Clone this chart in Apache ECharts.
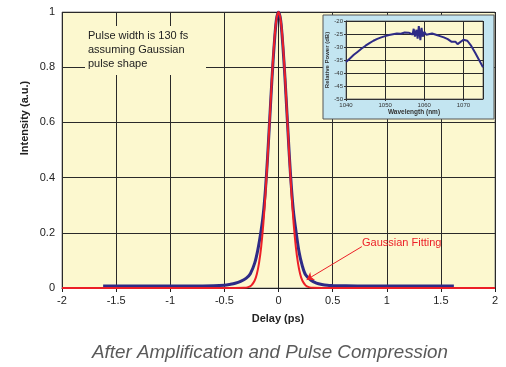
<!DOCTYPE html>
<html>
<head>
<meta charset="utf-8">
<script src="https://cdn.jsdelivr.net/npm/echarts@6/dist/echarts.min.js"></script>
<style>
  html, body { margin: 0; padding: 0; background: #fff; }
  #chart { width: 506px; height: 367px; }
</style>
</head>
<body>
<div id="chart"></div>
<script>
// autocorrelation trace (measured)
var delayMeasured = [-1.62, -1.2, -0.8, -0.6, -0.5, -0.45, -0.4, -0.35, -0.3, -0.26, -0.22, -0.19, -0.16, -0.14, -0.12, -0.1, -0.08, -0.06, -0.04, -0.02, 0,
  0.02, 0.04, 0.06, 0.08, 0.1, 0.12, 0.14, 0.16, 0.19, 0.22, 0.25, 0.3, 0.35, 0.4, 0.45, 0.5, 0.6, 0.8, 1.2, 1.62];
var intensityMeasured = [0.007, 0.007, 0.007, 0.008, 0.010, 0.013, 0.017, 0.024, 0.035, 0.052, 0.09, 0.14, 0.21, 0.27, 0.36, 0.48, 0.62, 0.76, 0.88, 0.97, 1,
  0.97, 0.88, 0.76, 0.62, 0.48, 0.36, 0.27, 0.21, 0.13, 0.08, 0.048, 0.028, 0.018, 0.013, 0.010, 0.009, 0.008, 0.007, 0.007, 0.007];

// gaussian fit
var delayFit = [-2, -0.4, -0.32, -0.28, -0.25, -0.22, -0.2, -0.18, -0.16, -0.14, -0.12, -0.1, -0.08, -0.06, -0.04, -0.02, 0,
  0.02, 0.04, 0.06, 0.08, 0.1, 0.12, 0.14, 0.16, 0.18, 0.2, 0.22, 0.25, 0.28, 0.32, 0.4, 2];
var intensityFit = [0, 0, 0.0005, 0.003, 0.0096, 0.027, 0.051, 0.09, 0.149, 0.233, 0.343, 0.475, 0.621, 0.765, 0.888, 0.971, 1,
  0.971, 0.888, 0.765, 0.621, 0.475, 0.343, 0.233, 0.149, 0.09, 0.051, 0.027, 0.0096, 0.003, 0.0005, 0, 0];

// inset spectrum
var wavelength = [1040, 1041, 1042, 1043, 1044, 1045, 1046, 1047, 1048, 1049, 1050, 1051, 1052, 1053, 1053.5, 1054, 1055, 1055.5, 1056, 1056.5,
  1057, 1057.3, 1057.6, 1058, 1058.3, 1058.6, 1059, 1059.3, 1059.6, 1060, 1060.5, 1061, 1062, 1063, 1064, 1065, 1066, 1067,
  1067.5, 1068, 1068.5, 1069, 1070, 1071, 1072, 1073, 1074, 1075];
var powerDb = [-35.8, -34.4, -33, -31.8, -30.6, -29.5, -28.5, -27.6, -26.9, -26.3, -25.8, -25.4, -25.1, -24.8, -24.3, -24.9, -24.4, -24.0, -24.5, -23.8,
  -25.2, -23.0, -26.0, -23.4, -26.8, -22.0, -27.4, -22.6, -26.0, -24.2, -25.3, -24.6, -24.8, -25.3, -25.8, -26.3, -27.0, -28.0,
  -28.6, -28.0, -28.9, -28.2, -27.2, -27.6, -29.6, -32.2, -35.0, -37.8];

var delayTicks = [-2, 2, 0.5];
var intensityTicks = [0, 1, 0.2];
var wlTicks = [1040, 1075, 10];
var dbTicks = [-50, -20, 5];

var arrowFrom = [0.77, 0.15];
var arrowTo = [0.26, 0.03];

function pairs(xs, ys) { return xs.map(function (x, i) { return [x, ys[i]]; }); }

var font = "'Liberation Sans', Arial, sans-serif";
var gridColor = '#2a2a2a';

var chart = echarts.init(document.getElementById('chart'));
chart.setOption({
  animation: false,
  textStyle: { fontFamily: font },
  grid: [
    { left: 62, right: 11, top: 12, bottom: 79, show: true, backgroundColor: '#fcf8cf', borderColor: '#8a8a8a', borderWidth: 1, z: 0 },
    { left: 346, top: 21, width: 137, height: 78, show: true, backgroundColor: '#fcf8cf', borderColor: '#777', borderWidth: 1, z: 10 }
  ],
  xAxis: [
    {
      type: 'value', gridIndex: 0, min: delayTicks[0], max: delayTicks[1], interval: delayTicks[2],
      axisLine: { onZero: false, lineStyle: { color: '#222' } },
      axisTick: { show: true, length: 4, lineStyle: { color: '#222' } },
      axisLabel: { color: '#222', fontSize: 11, margin: 7 },
      splitLine: { show: true, lineStyle: { color: gridColor, width: 1 } }
    },
    {
      type: 'value', gridIndex: 1, min: wlTicks[0], max: wlTicks[1], interval: wlTicks[2], z: 10,
      axisLine: { onZero: false, lineStyle: { color: '#333' } },
      axisTick: { show: true, length: 2, lineStyle: { color: '#333' } },
      axisLabel: { color: '#333', fontSize: 6, margin: 3, showMaxLabel: false, formatter: function (v) { return String(v); } },
      splitLine: { show: true, lineStyle: { color: gridColor, width: 1 } }
    }
  ],
  yAxis: [
    {
      type: 'value', gridIndex: 0, min: intensityTicks[0], max: intensityTicks[1], interval: intensityTicks[2],
      axisLine: { show: true, lineStyle: { color: '#222' } },
      axisTick: { show: true, length: 4, lineStyle: { color: '#222' } },
      axisLabel: { color: '#222', fontSize: 11, margin: 7 },
      splitLine: { show: true, lineStyle: { color: gridColor, width: 1 } }
    },
    {
      type: 'value', gridIndex: 1, min: dbTicks[0], max: dbTicks[1], interval: dbTicks[2], z: 10,
      axisLine: { show: true, lineStyle: { color: '#333' } },
      axisTick: { show: true, length: 2, lineStyle: { color: '#333' } },
      axisLabel: { color: '#333', fontSize: 6, margin: 3 },
      splitLine: { show: true, lineStyle: { color: gridColor, width: 1 } }
    }
  ],
  series: [
    {
      name: 'Measured', type: 'line', xAxisIndex: 0, yAxisIndex: 0,
      data: pairs(delayMeasured, intensityMeasured), showSymbol: false, smooth: 0.3, z: 2,
      lineStyle: { color: '#2e2b86', width: 3 }
    },
    {
      name: 'Gaussian Fitting', type: 'line', xAxisIndex: 0, yAxisIndex: 0,
      data: pairs(delayFit, intensityFit), showSymbol: false, smooth: 0.3, z: 3,
      lineStyle: { color: '#ec1f27', width: 2 },
      markLine: {
        silent: true, symbol: ['none', 'arrow'], symbolSize: 7,
        lineStyle: { color: '#ec1f27', width: 1, type: 'solid' },
        label: { show: false },
        data: [[{ coord: arrowFrom }, { coord: arrowTo }]]
      }
    },
    {
      name: 'Spectrum', type: 'line', xAxisIndex: 1, yAxisIndex: 1,
      data: pairs(wavelength, powerDb), showSymbol: false, z: 12,
      lineStyle: { color: '#2e2b86', width: 2 }
    }
  ],
  graphic: [
    // note box
    { type: 'rect', z: 4, shape: { x: 85, y: 26, width: 121, height: 49 }, style: { fill: '#fcf8cf' } },
    { type: 'text', z: 5, left: 88, top: 29, style: { text: 'Pulse width is 130 fs\nassuming Gaussian\npulse shape', fill: '#222', font: '11px ' + font, lineHeight: 14 } },
    // fit label
    { type: 'text', z: 5, left: 362, top: 237, style: { text: 'Gaussian Fitting', fill: '#ec1f27', font: '11px ' + font } },
    // axis titles
    { type: 'text', z: 5, x: 25, y: 118, rotation: Math.PI / 2, style: { text: 'Intensity (a.u.)', fill: '#222', font: 'bold 11px ' + font, textAlign: 'center', textVerticalAlign: 'middle' } },
    { type: 'text', z: 5, x: 278, y: 319, style: { text: 'Delay (ps)', fill: '#222', font: 'bold 11px ' + font, textAlign: 'center', textVerticalAlign: 'middle' } },
    { type: 'text', z: 5, x: 270, y: 353, style: { text: 'After Amplification and Pulse Compression', fill: '#5a5a5a', font: 'italic 18.8px ' + font, textAlign: 'center', textVerticalAlign: 'middle' } },
    // inset frame
    { type: 'rect', z: 6, shape: { x: 323, y: 15, width: 171, height: 104 }, style: { fill: '#c3e5f1', stroke: '#555', lineWidth: 1 } },
    { type: 'text', z: 14, x: 327, y: 60, rotation: Math.PI / 2, style: { text: 'Relative Power (dB)', fill: '#333', font: 'bold 6px ' + font, textAlign: 'center', textVerticalAlign: 'middle' } },
    { type: 'text', z: 14, x: 414, y: 112, style: { text: 'Wavelength (nm)', fill: '#333', font: 'bold 6.5px ' + font, textAlign: 'center', textVerticalAlign: 'middle' } }
  ]
});
</script>
</body>
</html>
